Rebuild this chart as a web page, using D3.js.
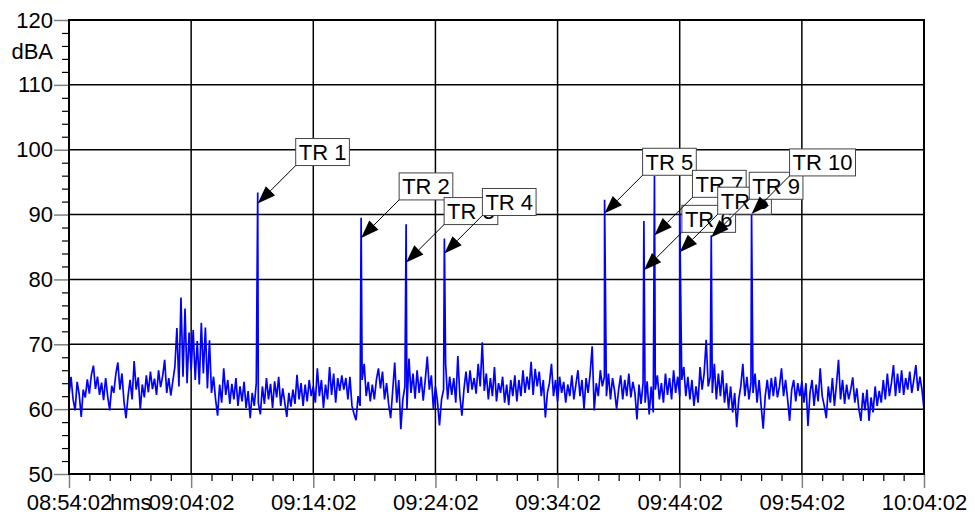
<!DOCTYPE html>
<html>
<head>
<meta charset="utf-8">
<script src="https://cdn.jsdelivr.net/npm/d3@7"></script>
<style>
  html, body { margin: 0; padding: 0; background: #fff; }
  svg { display: block; font-family: Arial, "Liberation Sans", sans-serif; }
</style>
</head>
<body>
<svg id="chart" width="975" height="516"></svg>
<script>
// ---------------- DATA ----------------
const startLabel = "08:54:02";
const endLabel = "10:04:02";
const stepSeconds = 10;
const xTickLabels = ["08:54:02","09:04:02","09:14:02","09:24:02","09:34:02","09:44:02","09:54:02","10:04:02"];
const yTickValues = [50, 60, 70, 80, 90, 100, 110, 120];
const yUnit = "dBA";
const xUnit = "hms";

// background level, dBA, one reading every 10 s from 08:54:02
const levels = [
62.0,65.0,61.5,59.8,64.2,62.3,58.8,63.0,61.8,64.6,62.4,65.3,66.7,63.1,65.0,62.2,64.1,61.4,64.8,62.0,
59.8,63.6,62.5,65.4,67.2,63.0,65.5,61.2,58.6,62.0,64.5,61.5,67.4,63.0,64.9,59.9,63.8,61.8,65.2,62.6,
65.8,63.1,64.7,62.2,66.0,63.4,65.1,67.6,62.5,64.8,62.1,64.3,66.5,72.5,63.5,77.2,65.0,75.5,64.0,71.8,
66.0,72.2,64.5,70.5,63.8,73.3,65.5,72.6,63.2,70.6,62.5,65.0,61.5,59.0,63.8,61.0,66.3,62.2,64.5,60.8,
63.9,61.5,64.8,60.5,63.5,61.2,64.2,60.2,62.8,58.6,62.5,60.5,64.0,61.0,59.2,63.5,60.8,64.8,61.5,63.9,
60.2,64.3,61.8,65.0,60.5,63.2,61.0,58.8,62.5,60.4,63.0,60.8,65.3,61.5,64.0,60.5,63.8,61.2,64.5,62.0,
63.5,61.0,66.3,62.0,64.5,60.2,63.8,61.5,66.5,62.2,65.5,61.0,64.8,62.8,65.2,63.0,64.8,61.5,65.0,60.5,
59.3,58.3,62.0,60.5,64.5,67.0,62.0,64.2,61.2,63.8,61.5,64.5,66.3,63.2,65.8,61.5,64.0,60.8,58.6,62.8,
67.2,61.0,64.5,56.9,61.5,63.5,60.0,67.8,62.5,65.5,61.6,66.0,62.5,65.0,61.3,64.5,68.1,63.0,65.2,60.0,
63.5,61.2,57.5,61.5,63.0,67.0,61.5,65.0,62.2,64.8,61.0,68.2,62.0,59.0,63.0,65.8,62.5,66.0,63.0,64.8,
62.4,67.0,63.5,70.3,62.8,65.5,61.5,64.8,62.0,66.5,61.2,64.0,62.5,65.0,61.0,63.8,60.6,64.5,62.0,65.2,
61.2,64.5,62.0,66.0,62.5,65.0,63.0,67.3,62.2,66.2,63.5,65.8,62.0,64.5,58.7,62.5,64.0,67.0,62.0,64.5,
61.2,65.0,62.5,64.2,61.0,63.8,62.0,65.2,61.5,63.8,66.0,62.0,64.5,60.0,64.8,62.5,65.5,69.7,59.8,64.0,
62.0,66.0,63.5,65.0,62.0,65.5,61.5,64.8,62.8,60.0,63.0,65.2,61.5,64.5,62.0,65.5,61.8,64.2,62.5,58.4,
63.8,60.8,64.0,61.0,64.3,59.2,63.5,59.5,63.0,65.2,61.5,64.0,61.0,65.5,62.2,64.8,61.5,66.0,62.5,65.0,
62.0,64.5,66.5,62.0,65.0,61.5,64.5,60.5,63.5,61.0,66.5,63.0,65.5,70.7,63.5,65.0,62.5,67.0,61.5,65.5,
62.0,66.0,61.0,64.0,60.0,63.5,59.5,62.5,57.2,61.5,63.5,67.0,62.0,65.0,61.5,64.0,62.5,65.5,61.0,64.5,
60.5,57.0,62.0,64.5,61.5,64.8,62.0,65.0,61.8,63.5,66.3,62.0,64.5,61.5,58.2,63.0,64.5,61.2,64.0,62.0,
64.3,61.0,64.0,57.4,62.5,64.5,60.5,63.8,61.2,66.3,62.0,60.5,58.6,63.5,61.0,64.8,60.5,63.8,67.6,61.5,
64.5,60.8,63.8,61.5,63.0,64.9,61.0,63.2,60.0,58.2,62.5,59.8,63.0,58.2,61.8,59.5,63.5,60.5,62.8,61.0,
64.5,61.5,65.5,62.0,64.0,66.8,62.0,65.5,62.5,66.0,62.2,64.8,63.0,65.8,62.5,64.5,66.8,62.8,65.0,63.0,
60.0
];

// pass-by peaks
const eventLabels = ["TR 1","TR 2","TR 3","TR 4","TR 5","TR 6","TR 7","TR 8","TR 9","TR 10"];
const eventTimes  = ["09:09:29","09:17:57","09:21:38","09:24:46","09:37:53","09:41:06","09:41:58","09:44:02","09:46:37","09:49:55"];
const eventPeaks  = [93.4, 89.5, 88.5, 86.3, 92.3, 89.0, 96.0, 90.2, 86.8, 90.2];
const arrowLevels = [91.7, 86.4, 82.6, 84.0, 90.2, 81.4, 86.8, 84.2, 86.5, 90.1];

// ---------------- CHART ----------------
const parse = d3.timeParse("%H:%M:%S");
const t0 = parse(startLabel), t1 = parse(endLabel);

const svg = d3.select("#chart");
const mLeft = 69, mRight = 924, mTop = 20, mBottom = 474;
const FONT = "Arial, 'Liberation Sans', sans-serif";

const x = d3.scaleTime().domain([t0, t1]).range([mLeft, mRight]);
const y = d3.scaleLinear().domain([50, 120]).range([mBottom, mTop]);

// series: base readings merged with event peaks
const series = levels.map((v, i) => ({ t: d3.timeSecond.offset(t0, i * stepSeconds), v }));
eventTimes.forEach((s, i) => series.push({ t: parse(s), v: eventPeaks[i] }));
series.sort((a, b) => a.t - b.t);

const majorX = xTickLabels.map(parse);
const minorX = d3.range(0, (t1 - t0) / 1000 + 1, 100)
  .filter(s => s % 600 !== 0)
  .map(s => d3.timeSecond.offset(t0, s));

// grid
const grid = svg.append("g");
grid.selectAll("line.h").data(yTickValues.filter(v => v > 50 && v < 120)).join("line")
  .attr("x1", mLeft).attr("x2", mRight).attr("y1", d => y(d)).attr("y2", d => y(d))
  .attr("stroke", "#000").attr("stroke-width", 1.5);
grid.selectAll("line.v").data(majorX.slice(1, -1)).join("line")
  .attr("x1", d => x(d)).attr("x2", d => x(d)).attr("y1", mTop).attr("y2", mBottom)
  .attr("stroke", "#000").attr("stroke-width", 1.5);

// minor ticks
const yMinor = d3.range(50, 121, 2).filter(v => v % 10 !== 0);
svg.append("g").attr("transform", `translate(${mLeft},0)`)
  .call(d3.axisLeft(y).tickValues(yMinor).tickSize(7).tickFormat(""))
  .call(g => g.select(".domain").remove())
  .call(g => g.selectAll("line").attr("stroke", "#000").attr("stroke-width", 1.2));
svg.append("g").attr("transform", `translate(0,${mBottom})`)
  .call(d3.axisBottom(x).tickValues(minorX).tickSize(7).tickFormat(""))
  .call(g => g.select(".domain").remove())
  .call(g => g.selectAll("line").attr("stroke", "#000").attr("stroke-width", 1.2));

// major axes
svg.append("g").attr("transform", `translate(${mLeft},0)`)
  .call(d3.axisLeft(y).tickValues(yTickValues).tickSize(15).tickPadding(1))
  .call(g => g.select(".domain").remove())
  .call(g => g.selectAll("line").attr("stroke", "#808080").attr("stroke-width", 1.5))
  .call(g => g.selectAll("text").attr("font-size", 22).attr("fill", "#000").attr("font-family", FONT));
svg.append("g").attr("transform", `translate(0,${mBottom})`)
  .call(d3.axisBottom(x).tickValues(majorX).tickSize(14).tickPadding(6).tickFormat(d3.timeFormat("%H:%M:%S")))
  .call(g => g.select(".domain").remove())
  .call(g => g.selectAll("line").attr("stroke", "#808080").attr("stroke-width", 1.5))
  .call(g => g.selectAll("text").attr("font-size", 22).attr("fill", "#000").attr("font-family", FONT));

// unit labels
svg.append("text").attr("x", mLeft - 16).attr("y", y(115)).attr("dy", "0.32em")
  .attr("text-anchor", "end").attr("font-size", 22).text(yUnit);
svg.append("text").attr("x", 110).attr("y", mBottom + 20).attr("dy", "0.71em")
  .attr("font-size", 22).text(xUnit);

// trace
svg.append("path").datum(series)
  .attr("fill", "none").attr("stroke", "#0000ff").attr("stroke-width", 1.7)
  .attr("d", d3.line().x(d => x(d.t)).y(d => y(d.v)));

// frame
svg.append("rect").attr("x", mLeft).attr("y", mTop).attr("width", mRight - mLeft).attr("height", mBottom - mTop)
  .attr("fill", "none").attr("stroke", "#000").attr("stroke-width", 2);

// annotations
const off = 38, L = 18, W = 6.5, boxH = 27;
eventLabels.forEach((lab, i) => {
  const tx = x(parse(eventTimes[i])), ty = y(arrowLevels[i]);
  const bx = tx + off, by = ty - off;
  const g = svg.append("g");
  const rect = g.append("rect").attr("fill", "#fff").attr("stroke", "#444").attr("stroke-width", 1);
  const text = g.append("text").attr("x", bx + 3).attr("y", by - 5.5).attr("font-size", 22).text(lab);
  const w = text.node().getComputedTextLength() + 6;
  rect.attr("x", bx).attr("y", by - boxH).attr("width", w).attr("height", boxH);
  const ux = -Math.SQRT1_2, uy = Math.SQRT1_2;
  const cx = tx - ux * L, cy = ty - uy * L;
  g.append("line").attr("x1", bx).attr("y1", by).attr("x2", cx).attr("y2", cy)
    .attr("stroke", "#000").attr("stroke-width", 1);
  const px = -uy, py = ux;
  g.append("path").attr("fill", "#000")
    .attr("d", `M${tx},${ty}L${cx + px * W},${cy + py * W}L${cx - px * W},${cy - py * W}Z`);
});
</script>
</body>
</html>
